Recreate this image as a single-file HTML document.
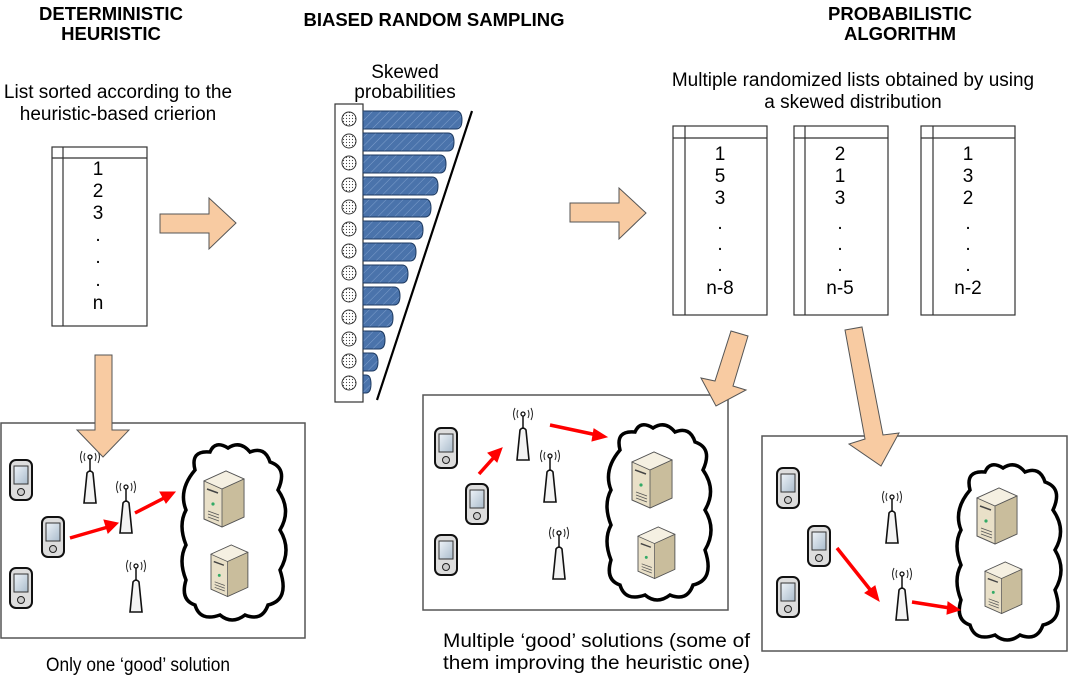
<!DOCTYPE html>
<html><head><meta charset="utf-8"><style>
html,body{margin:0;padding:0;background:#fff}
svg{display:block}
text{font-family:"Liberation Sans",Arial,sans-serif;fill:#000}
.b{font-weight:bold;font-size:18.5px}
.n{font-size:19px}
</style></head><body>
<svg width="1068" height="681" viewBox="0 0 1068 681" xmlns="http://www.w3.org/2000/svg">
<defs>
<pattern id="dots" width="3" height="3" patternUnits="userSpaceOnUse"><rect width="3" height="3" fill="#fff"/><circle cx="1.5" cy="1.5" r="0.6" fill="#444"/></pattern>
<pattern id="hatch" width="6" height="6" patternUnits="userSpaceOnUse" patternTransform="rotate(45)"><rect width="6" height="6" fill="#4a73ab"/><line x1="0" y1="0" x2="0" y2="6" stroke="#7f9fcc" stroke-width="1"/></pattern>
<linearGradient id="scr" x1="0" y1="0" x2="1" y2="1"><stop offset="0" stop-color="#eef3f8"/><stop offset="1" stop-color="#aabccc"/></linearGradient>
<g id="phone">
<rect x="0" y="0" width="22" height="40" rx="6" fill="#ddd" stroke="#111" stroke-width="2"/>
<rect x="4" y="6" width="14" height="18" fill="url(#scr)" stroke="#333" stroke-width="1"/>
<circle cx="11" cy="32" r="3.5" fill="#ccc" stroke="#222" stroke-width="1"/>
</g>
<g id="tower">
<path d="M4 52 L7 22 Q10 18 13 22 L16 52 Z" fill="#f4f4f4" stroke="#111" stroke-width="1.6"/>
<line x1="10" y1="21" x2="10" y2="6" stroke="#111" stroke-width="1.5"/>
<circle cx="10" cy="6" r="2" fill="#fff" stroke="#111" stroke-width="1.3"/>
<path d="M5 2 Q3 6 5 10 M15 2 Q17 6 15 10 M2 0 Q-1 6 2 12 M18 0 Q21 6 18 12" fill="none" stroke="#222" stroke-width="1"/>
</g>
<g id="server">
<path d="M0 10 L22 0 L40 8 L40 46 L18 56 L0 48 Z" fill="#e9e0c8" stroke="#555" stroke-width="1"/>
<path d="M0 10 L22 0 L40 8 L18 18 Z" fill="#f5f0e2" stroke="#555" stroke-width="0.8"/>
<path d="M18 18 L40 8 L40 46 L18 56 Z" fill="#c9bd9c" stroke="#555" stroke-width="0.8"/>
<line x1="3" y1="18" x2="14" y2="22" stroke="#444" stroke-width="1.5"/>
<circle cx="9" cy="33" r="1.6" fill="#3a6"/>
<path d="M4 40 L15 44 M4 43 L15 47 M4 46 L15 50" stroke="#555" stroke-width="0.8"/>
</g>
</defs>

<text class="b" x="111" y="20" text-anchor="middle">DETERMINISTIC</text>
<text class="b" x="111" y="40" text-anchor="middle">HEURISTIC</text>
<text class="b" x="434" y="26" text-anchor="middle">BIASED RANDOM SAMPLING</text>
<text class="b" x="900" y="20" text-anchor="middle">PROBABILISTIC</text>
<text class="b" x="900" y="40" text-anchor="middle">ALGORITHM</text>

<text class="n" x="118" y="98" text-anchor="middle">List sorted according to the</text>
<text class="n" x="118" y="120" text-anchor="middle">heuristic-based crierion</text>
<text class="n" x="405" y="78" text-anchor="middle">Skewed</text>
<text class="n" x="405" y="98" text-anchor="middle">probabilities</text>
<text class="n" x="853" y="86" text-anchor="middle">Multiple randomized lists obtained by using</text>
<text class="n" x="853" y="108" text-anchor="middle">a skewed distribution</text>

<g stroke="#333" fill="none" stroke-width="1.2">
<rect x="52" y="147" width="95" height="179" fill="#fff"/>
<line x1="52" y1="158" x2="147" y2="158"/><line x1="63" y1="147" x2="63" y2="326"/>
<rect x="673" y="126" width="94" height="189" fill="#fff"/>
<line x1="673" y1="138" x2="767" y2="138"/><line x1="685" y1="126" x2="685" y2="315"/>
<rect x="794" y="126" width="94" height="189" fill="#fff"/>
<line x1="794" y1="138" x2="888" y2="138"/><line x1="805" y1="126" x2="805" y2="315"/>
<rect x="921" y="126" width="94" height="189" fill="#fff"/>
<line x1="921" y1="138" x2="1015" y2="138"/><line x1="933" y1="126" x2="933" y2="315"/>
</g>
<g class="n" text-anchor="middle">
<text x="98" y="175">1</text><text x="98" y="197">2</text><text x="98" y="219">3</text>
<text x="98" y="241">.</text><text x="98" y="263">.</text><text x="98" y="286">.</text><text x="98" y="309">n</text>
<text x="720" y="160">1</text><text x="720" y="182">5</text><text x="720" y="204">3</text>
<text x="720" y="229">.</text><text x="720" y="250">.</text><text x="720" y="271">.</text><text x="720" y="294">n-8</text>
<text x="840" y="160">2</text><text x="840" y="182">1</text><text x="840" y="204">3</text>
<text x="840" y="229">.</text><text x="840" y="250">.</text><text x="840" y="271">.</text><text x="840" y="294">n-5</text>
<text x="968" y="160">1</text><text x="968" y="182">3</text><text x="968" y="204">2</text>
<text x="968" y="229">.</text><text x="968" y="250">.</text><text x="968" y="271">.</text><text x="968" y="294">n-2</text>
</g>

<rect x="335" y="104" width="28" height="298" fill="#fff" stroke="#333" stroke-width="1.2"/>
<g stroke="#333" stroke-width="1">
<g fill="url(#dots)">
<circle cx="349" cy="119" r="7"/><circle cx="349" cy="141" r="7"/><circle cx="349" cy="163" r="7"/><circle cx="349" cy="185" r="7"/><circle cx="349" cy="207" r="7"/><circle cx="349" cy="229" r="7"/><circle cx="349" cy="251" r="7"/><circle cx="349" cy="273" r="7"/><circle cx="349" cy="295" r="7"/><circle cx="349" cy="317" r="7"/><circle cx="349" cy="339" r="7"/><circle cx="349" cy="361" r="7"/><circle cx="349" cy="383" r="7"/>
</g>
<g fill="url(#hatch)" stroke="#1e3a60">
<path d="M363 111 H456 Q462 111 462 120 Q462 129 456 129 H363 Z"/>
<path d="M363 133 H448 Q454 133 454 142 Q454 151 448 151 H363 Z"/>
<path d="M363 155 H440 Q446 155 446 164 Q446 173 440 173 H363 Z"/>
<path d="M363 177 H432 Q438 177 438 186 Q438 195 432 195 H363 Z"/>
<path d="M363 199 H425 Q431 199 431 208 Q431 217 425 217 H363 Z"/>
<path d="M363 221 H417 Q423 221 423 230 Q423 239 417 239 H363 Z"/>
<path d="M363 243 H410 Q416 243 416 252 Q416 261 410 261 H363 Z"/>
<path d="M363 265 H402 Q408 265 408 274 Q408 283 402 283 H363 Z"/>
<path d="M363 287 H394 Q400 287 400 296 Q400 305 394 305 H363 Z"/>
<path d="M363 309 H387 Q393 309 393 318 Q393 327 387 327 H363 Z"/>
<path d="M363 331 H379 Q385 331 385 340 Q385 349 379 349 H363 Z"/>
<path d="M363 353 H372 Q378 353 378 362 Q378 371 372 371 H363 Z"/>
<path d="M363 375 H366 Q371 375 371 384 Q371 393 366 393 H363 Z"/>
</g>
</g>
<line x1="472" y1="111" x2="377" y2="400" stroke="#000" stroke-width="2.2"/>

<g fill="#f8cba2" stroke="#555" stroke-width="1">
<path d="M160 214 H209 V198 L236 223 L209 249 V233 H160 Z"/>
<path d="M570 203 H619 V188 L646 213 L619 239 V222 H570 Z"/>
</g>

<g fill="#fff" stroke="#555" stroke-width="1.5">
<rect x="1" y="423" width="304" height="215"/>
<rect x="423" y="395" width="305" height="215"/>
<rect x="762" y="436" width="305" height="215"/>
</g>

<g fill="#fff" stroke="#000" stroke-width="3.5">
<path d="M195 470 Q190 450 210 452 Q215 440 228 448 Q240 440 250 452 Q265 446 270 462 Q288 468 278 490 Q292 510 280 530 Q292 550 280 570 Q290 600 268 605 Q262 622 245 615 Q232 625 220 615 Q200 622 195 605 Q180 600 186 580 Q178 560 186 545 Q178 525 186 510 Q178 490 195 470 Z"/>
<path d="M620 450 Q615 430 635 432 Q640 420 653 428 Q665 420 675 432 Q690 426 695 442 Q713 448 703 470 Q717 490 705 510 Q717 530 705 550 Q715 580 693 585 Q687 602 670 595 Q657 605 645 595 Q625 602 620 585 Q605 580 611 560 Q603 540 611 525 Q603 505 611 490 Q603 470 620 450 Z"/>
<path d="M970 490 Q965 470 985 472 Q990 460 1003 468 Q1015 460 1025 472 Q1040 466 1045 482 Q1063 488 1053 510 Q1067 530 1055 550 Q1067 570 1055 590 Q1065 620 1043 625 Q1037 642 1020 635 Q1007 645 995 635 Q975 642 970 625 Q955 620 961 600 Q953 580 961 565 Q953 545 961 530 Q953 510 970 490 Z"/>
</g>

<use href="#server" x="204" y="471"/><use href="#server" x="211" y="545" transform="translate(211 545) scale(0.92) translate(-211 -545)"/>
<use href="#server" x="632" y="452"/><use href="#server" x="638" y="527" transform="translate(638 527) scale(0.92) translate(-638 -527)"/>
<use href="#server" x="977" y="488"/><use href="#server" x="985" y="562" transform="translate(985 562) scale(0.92) translate(-985 -562)"/>

<use href="#phone" x="10" y="460"/><use href="#phone" x="42" y="517"/><use href="#phone" x="10" y="568"/>
<use href="#phone" x="435" y="428"/><use href="#phone" x="466" y="484"/><use href="#phone" x="435" y="535"/>
<use href="#phone" x="777" y="468"/><use href="#phone" x="808" y="526"/><use href="#phone" x="777" y="577"/>

<use href="#tower" x="80" y="451"/><use href="#tower" x="116" y="481"/><use href="#tower" x="126" y="560"/>
<use href="#tower" x="513" y="408"/><use href="#tower" x="540" y="450"/><use href="#tower" x="549" y="527"/>
<use href="#tower" x="882" y="491"/><use href="#tower" x="892" y="568"/>

<g fill="#f8cba2" stroke="#555" stroke-width="1">
<path d="M95 355 H112 V430 H129 L103 457 L77 430 H95 Z"/>
<path d="M731 331 L748 336 L733 386 L746 390 L716 406 L701 378 L715 381 Z"/>
<path d="M845 330 L862 327 L883 435 L899 433 L881 466 L849 444 L865 439 Z"/>
</g>

<g stroke="#f00" stroke-width="3.5" fill="#f00">
<line x1="70" y1="538" x2="108" y2="527"/><path d="M118 523 L104 520 L108 533 Z" stroke-width="1"/>
<line x1="135" y1="513" x2="166" y2="497"/><path d="M175 492 L160 492 L166 503 Z" stroke-width="1"/>
<line x1="479" y1="474" x2="496" y2="455"/><path d="M502 448 L488 453 L497 462 Z" stroke-width="1"/>
<line x1="550" y1="425" x2="597" y2="435"/><path d="M607 437 L594 429 L592 441 Z" stroke-width="1"/>
<line x1="837" y1="548" x2="872" y2="592"/><path d="M879 601 L865 593 L875 586 Z" stroke-width="1"/>
<line x1="912" y1="602" x2="950" y2="608"/><path d="M960 610 L948 602 L947 614 Z" stroke-width="1"/>
</g>

<text class="n" x="46" y="671" textLength="184" lengthAdjust="spacingAndGlyphs">Only one ‘good’ solution</text>
<text class="n" x="443" y="647" textLength="307" lengthAdjust="spacingAndGlyphs">Multiple ‘good’ solutions (some of</text>
<text class="n" x="443" y="669" textLength="307" lengthAdjust="spacingAndGlyphs">them improving the heuristic one)</text>
</svg>
</body></html>
